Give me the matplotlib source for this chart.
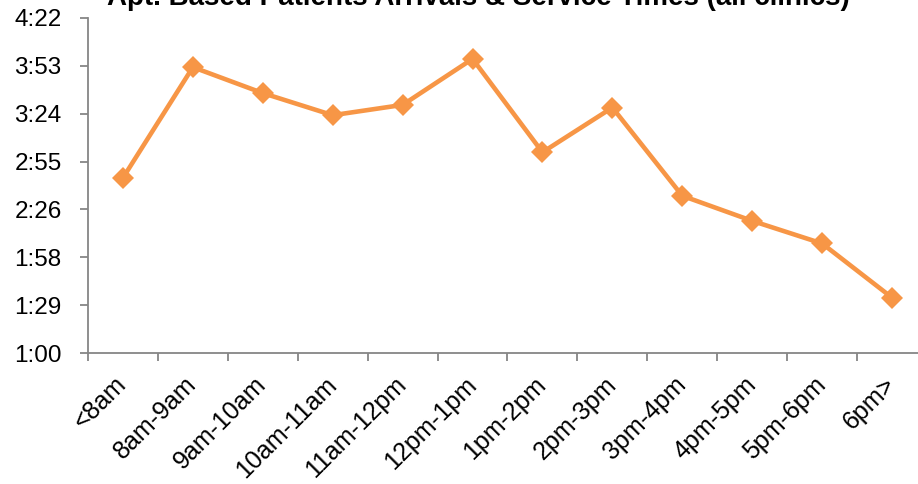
import matplotlib
matplotlib.use('Agg')
import matplotlib.pyplot as plt

plt.rcParams['font.family'] = ['Liberation Sans', 'DejaVu Sans']

# time slots and average service time (minutes)
slots = ['<8am', '8am-9am', '9am-10am', '10am-11am', '11am-12pm', '12pm-1pm',
         '1pm-2pm', '2pm-3pm', '3pm-4pm', '4pm-5pm', '5pm-6pm', '6pm>']
service_min = [165.4, 232.0, 216.4, 203.1, 209.3, 237.0,
               180.8, 207.7, 154.6, 139.5, 125.9, 93.3]

# y axis: 1:00 up to 4:22, step 0.02 day = 28.8 min
y_ticks = [60 + 28.8 * k for k in range(8)]
y_labels = ['1:00', '1:29', '1:58', '2:26', '2:55', '3:24', '3:53', '4:22']

fig = plt.figure(figsize=(9.18, 4.84), dpi=100)
ax = fig.add_axes([88 / 918, 1 - 353 / 484, 839 / 918, 335 / 484])

x = list(range(len(slots)))
ax.plot(x, service_min, color='#F79646', linewidth=3.3, marker='D',
        markersize=11, markeredgewidth=0, clip_on=False)

ax.set_xlim(-0.5, len(slots) - 0.5)
ax.set_ylim(y_ticks[0], y_ticks[-1])
ax.set_yticks(y_ticks)
ax.set_yticklabels(y_labels, fontsize=17.5)
ax.set_xticks(x)
ax.set_xticklabels(slots, fontsize=18, rotation=45, ha='right',
                   va='center', rotation_mode='anchor')
ax.set_xticks([i - 0.5 for i in range(len(slots) + 1)], minor=True)
ax.tick_params(axis='x', which='major', length=0, pad=20)
ax.tick_params(axis='x', which='minor', length=6, color='#868686', width=1.3)
ax.tick_params(axis='y', length=6, color='#868686', width=1.3, pad=13)

for side in ['top', 'right']:
    ax.spines[side].set_visible(False)
for side in ['left', 'bottom']:
    ax.spines[side].set_color('#868686')
    ax.spines[side].set_linewidth(1.3)

fig.text(478 / 918, 1 - 5 / 484, 'Apt. Based Patients Arrivals & Service Times (all clinics)',
         ha='center', va='baseline', fontsize=20, fontweight='bold')

fig.savefig('out.png', dpi=100)
